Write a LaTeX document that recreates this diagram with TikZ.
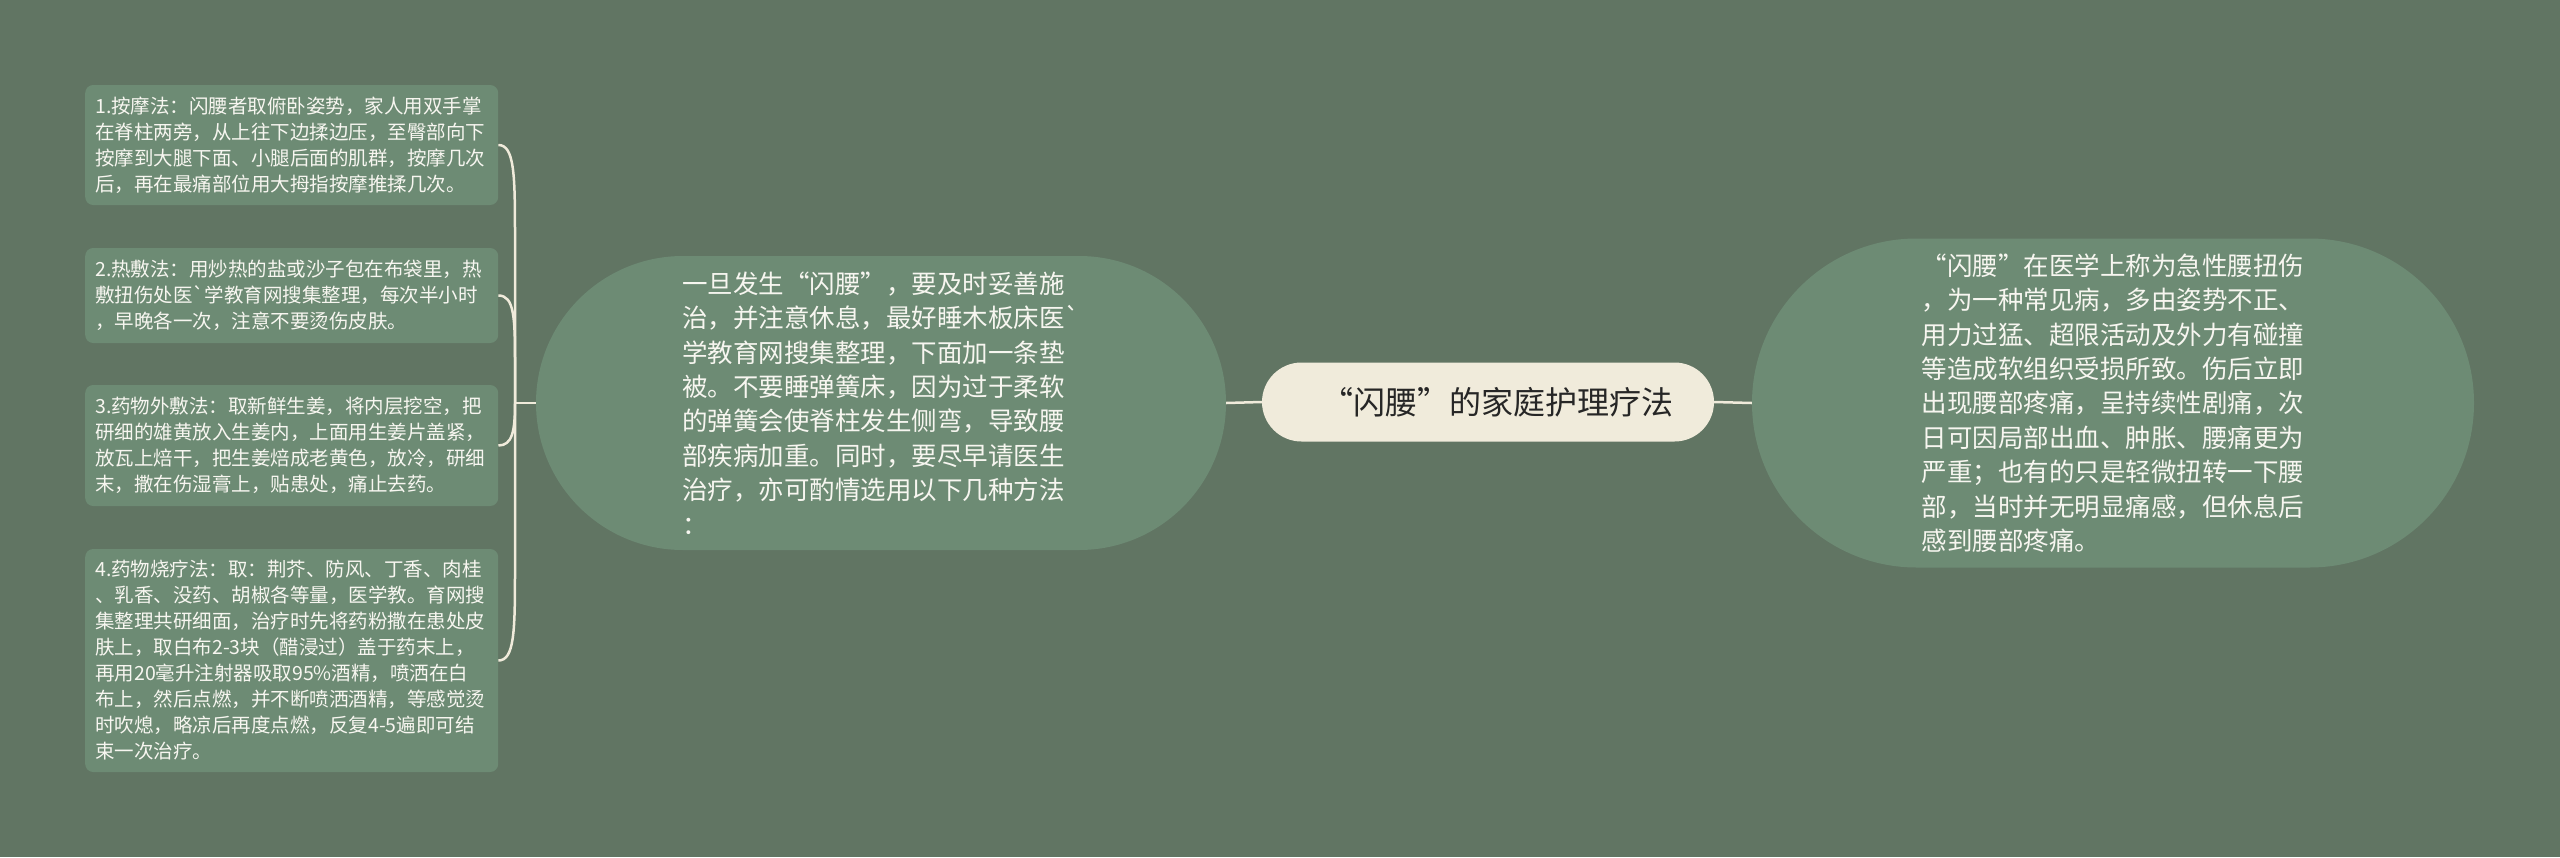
\documentclass[tikz,border=0pt]{standalone}
\usepackage{fontspec}
\setmainfont{Noto Sans CJK SC}[Ligatures=TeXOff]
\usetikzlibrary{shapes.misc}
\definecolor{bg}{HTML}{617563}
\definecolor{nodefill}{HTML}{6D8B74}
\definecolor{cream}{HTML}{F0EBDB}
\definecolor{txt}{HTML}{F7F6F0}
\definecolor{dark}{HTML}{262626}
\begin{document}
\begin{tikzpicture}[x=1pt,y=-1pt,
  leaf/.style={fill=nodefill, rounded corners=8pt, text=txt, align=left, text width=393pt,
    inner xsep=10pt, inner ysep=0pt, anchor=west, font=\fontsize{19.5}{26}\selectfont},
  sub/.style={rounded rectangle, fill=nodefill, text=txt, align=left, inner sep=0pt,
    font=\fontsize{25.5}{34.4}\selectfont},
  rootnode/.style={rounded rectangle, fill=cream, text=dark, inner sep=0pt,
    font=\fontsize{32}{38}\selectfont, minimum width=452pt, minimum height=79pt},
  link/.style={draw=cream, line width=2.5pt}
]
\fill[bg] (0,0) rectangle (2560,857);
\useasboundingbox (0,0) rectangle (2560,857);

\node[rootnode] (root) at (1488,402) {\hspace{18pt}“闪腰”的家庭护理疗法};

\node[sub, minimum width=690pt, minimum height=294pt] (mid) at (881,403) {一旦发生“闪腰”，要及时妥善施\\
治，并注意休息，最好睡木板床医`\\
学教育网搜集整理，下面加一条垫\\
被。不要睡弹簧床，因为过于柔软\\
的弹簧会使脊柱发生侧弯，导致腰\\
部疾病加重。同时，要尽早请医生\\
治疗，亦可酌情选用以下几种方法\\
：};

\node[sub, minimum width=722pt, minimum height=329pt] (right) at (2113,403) {“闪腰”在医学上称为急性腰扭伤\\
，为一种常见病，多由姿势不正、\\
用力过猛、超限活动及外力有碰撞\\
等造成软组织受损所致。伤后立即\\
出现腰部疼痛，呈持续性剧痛，次\\
日可因局部出血、肿胀、腰痛更为\\
严重；也有的只是轻微扭转一下腰\\
部，当时并无明显痛感，但休息后\\
感到腰部疼痛。};

\node[leaf, minimum height=120pt] (b1) at (85,145) {1.按摩法：闪腰者取俯卧姿势，家人用双手掌\\
在脊柱两旁，从上往下边揉边压，至臀部向下\\
按摩到大腿下面、小腿后面的肌群，按摩几次\\
后，再在最痛部位用大拇指按摩推揉几次。};

\node[leaf, minimum height=95pt] (b2) at (85,295.5) {2.热敷法：用炒热的盐或沙子包在布袋里，热\\
敷扭伤处医`学教育网搜集整理，每次半小时\\
，早晚各一次，注意不要烫伤皮肤。};

\node[leaf, minimum height=121pt] (b3) at (85,445.5) {3.药物外敷法：取新鲜生姜，将内层挖空，把\\
研细的雄黄放入生姜内，上面用生姜片盖紧，\\
放瓦上焙干，把生姜焙成老黄色，放冷，研细\\
末，撒在伤湿膏上，贴患处，痛止去药。};

\node[leaf, minimum height=223pt] (b4) at (85,660.5) {4.药物烧疗法：取：荆芥、防风、丁香、肉桂\\
、乳香、没药、胡椒各等量，医学教。育网搜\\
集整理共研细面，治疗时先将药粉撒在患处皮\\
肤上，取白布2-3块（醋浸过）盖于药末上，\\
再用20毫升注射器吸取95\%酒精，喷洒在白\\
布上，然后点燃，并不断喷洒酒精，等感觉烫\\
时吹熄，略凉后再度点燃，反复4-5遍即可结\\
束一次治疗。};

\coordinate (j) at (515,403);

\draw[link] (mid.east) -- (root.west);
\draw[link] (root.east) -- (right.west);
\draw[link] (mid.west) -- (j);
\draw[link] (j) -- ++(0,-168) .. controls +(0,-60) and +(16,0) .. (b1.east);
\draw[link] (j) -- ++(0,-40) .. controls +(0,-45) and +(16,0) .. (b2.east);
\draw[link] (j) .. controls +(0,28) and +(14,0) .. (b3.east);
\draw[link] (j) -- ++(0,168) .. controls +(0,60) and +(16,0) .. (b4.east);
\end{tikzpicture}
\end{document}
